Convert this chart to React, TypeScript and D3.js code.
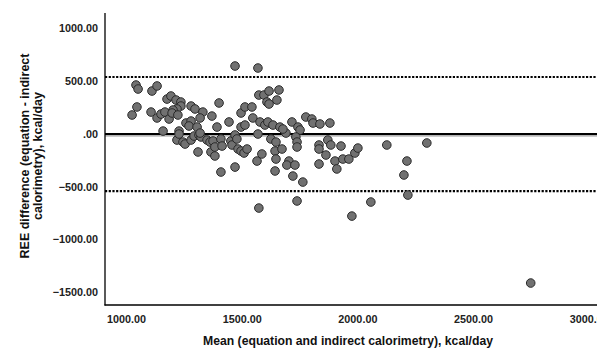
import React from "react";
import * as d3 from "d3";

// Bland-Altman data: mean of methods (kcal/day) and difference (kcal/day)
const meanValues: number[] = [
  1024, 1041, 1050, 1045, 1110, 1132, 1106, 1132, 1149, 1166, 1184, 1175, 1192, 1214, 1235, 1235,
  1218, 1201, 1197, 1222, 1279, 1296, 1330, 1318, 1257, 1279, 1270, 1305, 1400, 1369, 1391, 1158,
  1227, 1443, 1218, 1244, 1253, 1279, 1292, 1313, 1322, 1309, 1348, 1361, 1374, 1365, 1382, 1382,
  1408, 1413, 1408, 1469, 1451, 1456, 1469, 1482, 1495, 1508, 1521, 1564, 1585, 1568, 1624, 1642,
  1646, 1642, 1495, 1512, 1542, 1495, 1512, 1546, 1577, 1598, 1611, 1633, 1572, 1594, 1616, 1607,
  1616, 1659, 1650, 1469, 1568, 1572, 1663, 1715, 1741, 1750, 1689, 1775, 1801, 1806, 1836, 1879,
  1477, 1732, 1676, 1646, 1737, 1737, 1672, 1702, 1693, 1728, 1719, 1762, 1870, 1883, 1832, 1832,
  1862, 1832, 1927, 1901, 1935, 1961, 1909, 1987, 2000, 2125, 2298, 2212, 2199, 1737, 2056, 1974,
  2216, 2747, 1318, 1227
];

const diffValues: number[] = [
  180, 464, 426, 256, 407, 455, 208, 152, 189, 208, 142, 331, 360, 322, 303, 265,
  237, 227, 199, 180, 265, 237, 208, 152, 104, 123, 76, 66, 294, 170, 66, 28,
  28, 114, -57, -76, -95, -57, -19, -9, -28, -170, -57, -76, -66, -170, -208, -123,
  -47, -114, -360, -313, -66, -104, -9, -142, -161, -180, -142, -256, -189, 0, -47, -161,
  -237, -350, 199, 256, 256, 66, 85, 152, 114, 85, 114, 85, 369, 369, 407, 303,
  284, 417, 322, 644, 625, -701, 66, 114, 66, 38, 9, 161, 142, 104, 95, 104,
  -47, -28, 47, -76, -76, -123, -142, -256, -294, -294, -398, -455, -57, -104, -104, -142,
  -199, -284, -114, -256, -237, -237, -331, -180, -133, -104, -85, -256, -388, -634, -644, -777,
  -578, -1411, 9, 0
];

const xTicks: number[] = [1000, 1500, 2000, 2500, 3000];
const yTicks: number[] = [1000, 500, 0, -500, -1000, -1500];

const meanDiff = -12;
const upperLoA = 540;
const lowerLoA = -540;

const W = 597;
const H = 351;

export default function App() {
  const x = d3.scaleLinear().domain([907, 3120]).range([105, 617]);
  const y = d3.scaleLinear().domain([-1619, 1146]).range([305, 13]);
  const fmt = d3.format(".2f");
  const tickLabel = (v: number) => (v === 0 ? ".00" : fmt(v));
  const font = "'Liberation Sans', Arial, sans-serif";

  return (
    <svg
      width={W}
      height={H}
      style={{ position: "absolute", left: 0, top: 0, background: "#fff" }}
      fontFamily={font}
    >
      <rect x={0} y={0} width={W} height={H} fill="#fff" />
      {/* reference lines */}
      <line x1={x(907)} x2={W} y1={y(upperLoA)} y2={y(upperLoA)} stroke="#000" strokeWidth={2.2} strokeDasharray="2.2,1.5" />
      <line x1={x(907)} x2={W} y1={y(lowerLoA)} y2={y(lowerLoA)} stroke="#000" strokeWidth={2.2} strokeDasharray="2.2,1.5" />
      <line x1={x(907)} x2={W} y1={y(meanDiff) + 0.6} y2={y(meanDiff) + 0.6} stroke="#9a9a9a" strokeWidth={1.3} />
      <line x1={x(907)} x2={W} y1={y(0)} y2={y(0)} stroke="#000" strokeWidth={2} />

      {/* points */}
      {meanValues.map((m, i) => (
        <circle
          key={i}
          cx={x(m)}
          cy={y(diffValues[i])}
          r={4.3}
          fill="#717171"
          stroke="#2a2a2a"
          strokeWidth={1}
        />
      ))}

      {/* axes */}
      <line x1={105} x2={105} y1={13} y2={305.5} stroke="#000" strokeWidth={1.3} />
      <line x1={104.5} x2={W} y1={305} y2={305} stroke="#000" strokeWidth={1.3} />

      {yTicks.map((t) => (
        <text key={t} x={98} y={y(t)} dy="0.35em" textAnchor="end" fontSize={10.8} fontWeight="bold" fill="#222">
          {tickLabel(t)}
        </text>
      ))}
      {xTicks.map((t) => (
        <text key={t} x={x(t)} y={323} textAnchor="middle" fontSize={10.8} fontWeight="bold" fill="#222">
          {tickLabel(t)}
        </text>
      ))}

      <text x={348} y={345} textAnchor="middle" fontSize={12.2} fontWeight="bold" fill="#111">
        Mean (equation and indirect calorimetry), kcal/day
      </text>
      <g transform="translate(0,156) rotate(-90)">
        <text x={0} y={29} textAnchor="middle" fontSize={12.5} fontWeight="bold" fill="#111">
          REE difference (equation - indirect
        </text>
        <text x={0} y={42} textAnchor="middle" fontSize={12.5} fontWeight="bold" fill="#111">
          calorimetry), kcal/day
        </text>
      </g>
    </svg>
  );
}
